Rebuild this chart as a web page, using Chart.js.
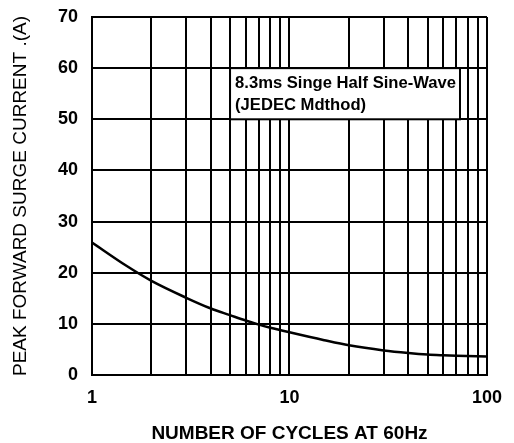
<!DOCTYPE html>
<html>
<head>
<meta charset="utf-8">
<script src="https://cdn.jsdelivr.net/npm/chart.js@4.4.1/dist/chart.umd.min.js"></script>
<style>
  html, body { margin: 0; padding: 0; background: #fff; }
  #wrap { width: 514px; height: 443px; position: relative; }
</style>
</head>
<body>
<div id="wrap"><canvas id="c" width="514" height="443"></canvas></div>
<script>
// Data
const cycles = [1, 1.5, 2, 3, 4, 5, 6, 7, 8, 10, 15, 20, 30, 40, 50, 60, 70, 100];
const surgeCurrent = [25.9, 21.3, 18.4, 15.1, 13.0, 11.7, 10.65, 9.85, 9.25, 8.35, 6.8, 5.8, 4.8, 4.3, 4.0, 3.85, 3.75, 3.6];
const xGridTicks = [1, 2, 3, 4, 5, 6, 7, 8, 9, 10, 20, 30, 40, 50, 60, 70, 80, 90, 100];
const xLabelTicks = [1, 10, 100];
const yTicks = [0, 10, 20, 30, 40, 50, 60, 70];
const noteLines = ['8.3ms Singe Half Sine-Wave', '(JEDEC Mdthod)'];
const noteBox = { xMin: 5, xMax: 73, yMin: 50, yMax: 60 };

const FONT = "'Liberation Sans', Arial, Helvetica, sans-serif";

const notePlugin = {
  id: 'note',
  afterDatasetsDraw(chart) {
    const { ctx, scales: { x, y } } = chart;
    const l = x.getPixelForValue(noteBox.xMin);
    const r = x.getPixelForValue(noteBox.xMax);
    const t = y.getPixelForValue(noteBox.yMax);
    const b = y.getPixelForValue(noteBox.yMin);
    ctx.save();
    ctx.fillStyle = '#fff';
    ctx.fillRect(l, t, r - l, b - t);
    ctx.strokeStyle = '#000';
    ctx.lineWidth = 2;
    ctx.strokeRect(l, t, r - l, b - t);
    ctx.fillStyle = '#000';
    ctx.font = "bold 17px " + FONT;
    ctx.textBaseline = 'middle';
    ctx.textAlign = 'left';
    const w1 = ctx.measureText(noteLines[0]).width;
    const ratio = Math.min(1, 221 / w1);
    const w2 = ctx.measureText(noteLines[1]).width;
    ctx.fillText(noteLines[0], l + 5, t + 15, w1 * ratio);
    ctx.fillText(noteLines[1], l + 5, t + 37, w2 * ratio);
    ctx.restore();
  }
};

new Chart(document.getElementById('c'), {
  type: 'line',
  data: {
    datasets: [{
      data: cycles.map((c, i) => ({ x: c, y: surgeCurrent[i] })),
      borderColor: '#000',
      borderWidth: 2.5,
      pointRadius: 0,
      fill: false,
      cubicInterpolationMode: 'monotone'
    }]
  },
  options: {
    responsive: false,
    animation: false,
    layout: { padding: { left: 0, right: 25, top: 17, bottom: 0 } },
    plugins: { legend: { display: false }, tooltip: { enabled: false } },
    scales: {
      x: {
        type: 'logarithmic',
        min: 1,
        max: 100,
        afterBuildTicks(scale) { scale.ticks = xGridTicks.map(v => ({ value: v })); },
        afterFit(scale) { scale.height = 68; },
        ticks: {
          autoSkip: false,
          maxRotation: 0,
          padding: 12,
          color: '#000',
          font: { family: FONT, size: 18, weight: 'bold' },
          callback: (v) => xLabelTicks.includes(v) ? String(v) : ''
        },
        grid: { color: '#000', lineWidth: 2, drawTicks: false },
        border: { color: '#000', width: 2 },
        title: {
          display: true,
          text: 'NUMBER OF CYCLES AT 60Hz',
          color: '#000',
          font: { family: FONT, size: 19, weight: 'bold' },
          padding: { top: 0, bottom: -2 }
        }
      },
      y: {
        type: 'linear',
        min: 0,
        max: 70,
        afterBuildTicks(scale) { scale.ticks = yTicks.map(v => ({ value: v })); },
        afterFit(scale) { scale.width = 92; scale.paddingTop = 0; scale.paddingBottom = 0; },
        ticks: {
          padding: 14,
          color: '#000',
          font: { family: FONT, size: 18, weight: 'bold' }
        },
        grid: { color: '#000', lineWidth: 2, drawTicks: false },
        border: { color: '#000', width: 2 },
        title: {
          display: true,
          text: 'PEAK FORWARD SURGE CURRENT .(A)',
          color: '#000',
          font: { family: FONT, size: 19, weight: 'normal' },
          padding: { top: 9, bottom: 0 }
        }
      }
    }
  },
  plugins: [notePlugin]
});
</script>
</body>
</html>
